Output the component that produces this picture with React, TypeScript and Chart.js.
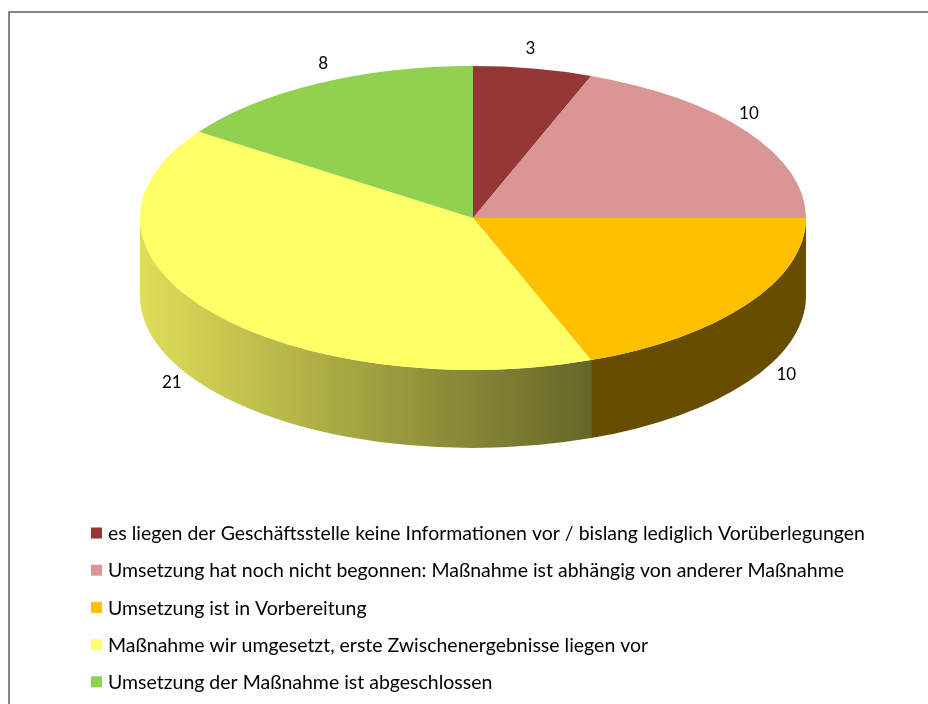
import React, { useEffect, useRef } from "react";
import { Chart, registerables } from "chart.js";

Chart.register(...registerables);

const categories = [
  "es liegen der Geschäftsstelle keine Informationen vor / bislang lediglich Vorüberlegungen",
  "Umsetzung hat noch nicht begonnen: Maßnahme ist abhängig von anderer Maßnahme",
  "Umsetzung ist in Vorbereitung",
  "Maßnahme wir umgesetzt, erste Zwischenergebnisse liegen vor",
  "Umsetzung der Maßnahme ist abgeschlossen",
];
const values = [3, 10, 10, 21, 8];
const sliceColors = ["#953735", "#d99694", "#ffc000", "#ffff66", "#92d050"];

const W = 928;
const H = 704;
const TOP_CY = 218; // screen centre of the top face
const RY = 152; // screen vertical radius of the top face
const DEPTH = 78; // thickness of the pie
const FONT = "Lato, 'Open Sans', sans-serif";

function hexToRgb(h: string) {
  const n = parseInt(h.slice(1), 16);
  return [(n >> 16) & 255, (n >> 8) & 255, n & 255];
}
function shade(h: string, f: number) {
  const [r, g, b] = hexToRgb(h);
  return `rgb(${Math.round(r * f)},${Math.round(g * f)},${Math.round(b * f)})`;
}

const pie3d = {
  id: "pie3d",
  beforeDraw(chart: any) {
    const ctx = chart.ctx;
    ctx.save();
    ctx.fillStyle = "#ffffff";
    ctx.fillRect(0, 0, W, H);
    ctx.strokeStyle = "#868686";
    ctx.lineWidth = 2;
    ctx.beginPath();
    ctx.moveTo(9, H + 2);
    ctx.lineTo(9, 12);
    ctx.lineTo(W + 2, 12);
    ctx.stroke();
    ctx.restore();
  },
  beforeDatasetsDraw(chart: any) {
    const ctx = chart.ctx;
    const meta = chart.getDatasetMeta(0);
    const first = meta.data[0];
    if (!first) return;
    const cx = first.x;
    const cy0 = first.y;
    const R = first.outerRadius;
    const k = RY / R;
    const fx = (x: number) => {
      const u = Math.min(Math.max((cx + R * 0.355 - x) / (R * 1.355), 0), 1);
      return 0.4 + 0.47 * u;
    };
    // side walls
    meta.data.forEach((arc: any, i: number) => {
      const a = Math.max(arc.startAngle, 0);
      const b = Math.min(arc.endAngle, Math.PI);
      if (b <= a) return;
      const color = sliceColors[i];
      const xR = cx + R * Math.cos(a);
      const xL = cx + R * Math.cos(b);
      let fill: any;
      if (xR - xL < 1) {
        fill = shade(color, fx(xL));
      } else {
        const g = ctx.createLinearGradient(xL, 0, xR, 0);
        for (let t = 0; t <= 8; t++) {
          const x = xL + ((xR - xL) * t) / 8;
          g.addColorStop(t / 8, shade(color, fx(x)));
        }
        fill = g;
      }
      ctx.save();
      ctx.beginPath();
      ctx.ellipse(cx, TOP_CY, R, RY, 0, a, b, false);
      ctx.ellipse(cx, TOP_CY + DEPTH, R, RY, 0, b, a, true);
      ctx.closePath();
      ctx.fillStyle = fill;
      ctx.fill();
      ctx.restore();
    });
    // squash the top face
    ctx.save();
    ctx.translate(0, TOP_CY);
    ctx.scale(1, k);
    ctx.translate(0, -cy0);
  },
  afterDatasetsDraw(chart: any) {
    const meta = chart.getDatasetMeta(0);
    if (!meta.data[0]) return;
    chart.ctx.restore();
  },
  afterDraw(chart: any) {
    const ctx = chart.ctx;
    const meta = chart.getDatasetMeta(0);
    const first = meta.data[0];
    if (!first) return;
    const cx = first.x;
    const R = first.outerRadius;
    // value labels
    ctx.save();
    ctx.fillStyle = "#000000";
    ctx.font = `17px ${FONT}`;
    ctx.textAlign = "center";
    ctx.textBaseline = "middle";
    meta.data.forEach((arc: any, i: number) => {
      const m = (arc.startAngle + arc.endAngle) / 2;
      const c = Math.cos(m);
      const s = Math.sin(m);
      const x = cx + (R + 25 + 40 * s) * c;
      const y =
        TOP_CY + (RY + 20) * s + (s > 0 ? DEPTH * 0.75 : -10 * c * c);
      ctx.fillText(String(chart.data.datasets[0].data[i]), x, y);
    });
    // legend
    ctx.font = `18px ${FONT}`;
    const w0 = ctx.measureText(categories[0]).width;
    const size = (18 * 757) / w0;
    ctx.font = `${size.toFixed(2)}px ${FONT}`;
    ctx.textAlign = "left";
    chart.data.labels.forEach((lab: string, i: number) => {
      const y = 533 + i * 37.2;
      ctx.fillStyle = sliceColors[i];
      ctx.fillRect(91, y - 5.5, 11, 11);
      ctx.fillStyle = "#000000";
      ctx.fillText(lab, 108, y + 1);
    });
    ctx.restore();
  },
};

export default function App() {
  const ref = useRef<HTMLCanvasElement | null>(null);
  useEffect(() => {
    document.body.style.margin = "0";
    const canvas = ref.current;
    if (!canvas) return;
    const chart = new Chart(canvas, {
      type: "pie",
      data: {
        labels: categories,
        datasets: [
          {
            data: values,
            backgroundColor: sliceColors,
            borderWidth: 0,
          },
        ],
      },
      options: {
        responsive: false,
        animation: false,
        events: [],
        layout: { padding: { left: 140, right: 122, top: 19, bottom: 19 } },
        plugins: {
          legend: { display: false },
          tooltip: { enabled: false },
        },
      },
      plugins: [pie3d],
    });
    return () => chart.destroy();
  }, []);
  return (
    <div style={{ width: W, height: H, overflow: "hidden" }}>
      <canvas ref={ref} width={W} height={H} style={{ display: "block", width: W, height: H }} />
    </div>
  );
}
